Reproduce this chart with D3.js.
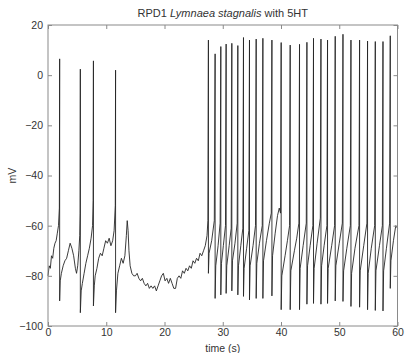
<!DOCTYPE html>
<html>
<head>
<meta charset="utf-8">
<script src="https://cdn.jsdelivr.net/npm/d3@7"></script>
<style>
  body { margin: 0; background: #fff; }
  svg { display: block; font-family: "Liberation Sans", Arial, sans-serif; }
</style>
</head>
<body>
<figure id="trace" style="margin:0"></figure>
<script>
// spikes: time (s), peak (mV), trough (mV)
const spikeTime = [2.0, 5.55, 7.8, 11.6,
  27.54, 28.69, 29.67, 30.58, 31.56, 32.59, 33.56, 34.59, 35.74, 36.89,
  38.44, 40.03, 41.58, 43.18, 44.45, 45.58, 46.86, 47.99, 49.31, 50.64,
  52.01, 53.49, 54.86, 56.19, 57.51, 58.76];
const spikePeak = [6.5, 2.4, 5.7, 2,
  14, 8.5, 11.4, 12.4, 12.7, 11.8, 15, 14, 14.4, 14.7,
  14, 13, 12, 12.3, 13.1, 14.7, 14.4, 14, 15.5, 16.3,
  14, 14, 13.6, 13.4, 13.4, 15.7];
const spikeTrough = [-90, -94.7, -92, -94.7,
  -79, -89, -87.6, -87, -86, -87.6, -88.2, -89.6, -89, -89,
  -88, -93.5, -93.5, -93.5, -91.3, -91, -91.3, -91, -90, -90.2,
  -92.2, -92.5, -93.5, -93.8, -94, -85];

// membrane potential between spikes
const slowTime = [
  0, 0.2, 0.4, 0.6, 0.8, 1.0, 1.2, 1.4, 1.6, 1.8, 1.95,
  2.1, 2.3, 2.6, 2.9, 3.2, 3.5, 3.8, 4.1, 4.4, 4.7, 4.9, 5.1, 5.3, 5.45, 5.52,
  5.7, 5.9, 6.2, 6.5, 6.8, 7.1, 7.4, 7.65, 7.75,
  7.95, 8.1, 8.4, 8.7, 9.0, 9.3, 9.6, 9.9, 10.2, 10.5, 10.8, 11.1, 11.35, 11.55,
  11.75, 12.0, 12.3, 12.6, 12.9, 13.2, 13.45, 13.6, 13.75, 13.9, 14.1, 14.4,
  14.7, 15.0, 15.3, 15.6, 15.9, 16.2, 16.5, 16.8, 17.1, 17.4, 17.7, 18.0,
  18.3, 18.6, 18.9, 19.2, 19.5, 19.8, 20.1, 20.4, 20.7, 21.0, 21.3, 21.6,
  21.9, 22.2, 22.5, 22.8, 23.1, 23.4, 23.7, 24.0, 24.3, 24.6, 24.9, 25.2,
  25.5, 25.8, 26.1, 26.4, 26.7, 27.0, 27.3, 27.45,
  27.65, 28.1, 28.55,
  28.8, 29.2, 29.55,
  29.78, 30.1, 30.47,
  30.69, 31.1, 31.45,
  31.67, 32.1, 32.48,
  32.7, 33.1, 33.45,
  33.67, 34.1, 34.48,
  34.7, 35.2, 35.62,
  35.85, 36.3, 36.78,
  37.0, 37.5, 38.0, 38.33,
  38.55, 39.0, 39.4, 39.7, 39.92,
  40.14, 40.7, 41.1, 41.47,
  41.69, 42.3, 42.7, 43.07,
  43.29, 43.8, 44.34,
  44.56, 45.0, 45.47,
  45.69, 46.2, 46.75,
  46.97, 47.4, 47.88,
  48.1, 48.7, 49.2,
  49.42, 50.0, 50.53,
  50.75, 51.3, 51.9,
  52.12, 52.7, 53.38,
  53.6, 54.2, 54.75,
  54.97, 55.5, 56.08,
  56.3, 56.9, 57.4,
  57.62, 58.1, 58.65,
  58.87, 59.3, 59.7, 60];
const slowVolt = [
  -80, -76, -77, -72, -73, -69, -67, -66, -63, -60, -53,
  -82, -79, -76, -74, -73, -70, -67, -69, -72, -77, -79, -76, -70, -64, -55,
  -86, -83, -79, -75, -72, -69, -65, -60, -50,
  -84, -80, -77, -73, -71, -72, -69, -66, -67, -65, -68, -66, -62, -52,
  -86, -79, -76, -73, -75, -72, -64, -58, -62, -70, -76, -79,
  -80, -80, -79, -81, -82, -81, -83, -84, -83, -85, -84, -85,
  -84, -86, -84, -82, -80, -79, -82, -81, -83, -81, -83, -85,
  -85, -81, -80, -81, -78, -79, -77, -78, -76, -77, -74, -75,
  -73, -74, -71, -72, -70, -68, -64, -58,
  -71, -66, -58,
  -76, -68, -59,
  -75, -68, -60,
  -76, -68, -61,
  -74, -67, -59,
  -76, -68, -61,
  -77, -69, -62,
  -76, -68, -60,
  -75, -67, -60,
  -74, -66, -59, -55,
  -72, -63, -56, -53, -55,
  -80, -72, -66, -60,
  -78, -70, -65, -59,
  -77, -68, -59,
  -76, -68, -60,
  -77, -67, -57,
  -76, -68, -60,
  -77, -68, -60,
  -76, -67, -59,
  -78, -69, -60,
  -79, -69, -60,
  -78, -68, -59,
  -79, -69, -60,
  -78, -68, -60,
  -78, -69, -59,
  -74, -66, -60, -61];

const xTicks = [0, 10, 20, 30, 40, 50, 60];
const yTicks = [-100, -80, -60, -40, -20, 0, 20];

const width = 406, height = 353;
const margin = { top: 25, right: 8.5, bottom: 27, left: 48 };

// merge slow trace and spikes in time order (stable sort keeps peak before trough)
let points = slowTime.map((t, i) => [t, slowVolt[i]]);
spikeTime.forEach((t, i) => {
  points.push([t, spikePeak[i]]);
  points.push([t, spikeTrough[i]]);
});
points.sort((a, b) => a[0] - b[0]);

const svg = d3.select("figure#trace")
  .append("svg")
  .attr("width", width)
  .attr("height", height);

const x = d3.scaleLinear()
  .domain([0, 60])
  .range([margin.left, width - margin.right]);

const y = d3.scaleLinear()
  .domain([-100, 20])
  .range([height - margin.bottom, margin.top]);

const frameColor = "#8a8a8a";
const textColor = "#333";

// trace
const line = d3.line()
  .x(d => x(d[0]))
  .y(d => y(d[1]));

svg.append("path")
  .datum(points)
  .attr("d", line)
  .style("fill", "none")
  .style("stroke", "#262626")
  .style("stroke-width", "0.9px")
  .style("stroke-linejoin", "round");

// axes with inward ticks (left/bottom labelled, top/right bare)
const tickLen = 4;
svg.append("g")
  .attr("transform", "translate(0," + y(-100) + ")")
  .call(d3.axisBottom(x).tickValues(xTicks).tickSizeInner(-tickLen).tickSizeOuter(0).tickPadding(3))
  .call(g => g.selectAll("text").style("font-size", "10.5px").style("fill", textColor));
svg.append("g")
  .attr("transform", "translate(0," + y(20) + ")")
  .call(d3.axisTop(x).tickValues(xTicks).tickSizeInner(-tickLen).tickSizeOuter(0).tickFormat(""));
svg.append("g")
  .attr("transform", "translate(" + x(0) + ",0)")
  .call(d3.axisLeft(y).tickValues(yTicks).tickSizeInner(-tickLen).tickSizeOuter(0).tickPadding(5))
  .call(g => g.selectAll("text").style("font-size", "10.5px").style("fill", textColor));
svg.append("g")
  .attr("transform", "translate(" + x(60) + ",0)")
  .call(d3.axisRight(y).tickValues(yTicks).tickSizeInner(-tickLen).tickSizeOuter(0).tickFormat(""));

svg.selectAll(".domain").remove();
svg.selectAll(".tick line").style("stroke", frameColor);

// box
svg.append("rect")
  .attr("x", x(0))
  .attr("y", y(20))
  .attr("width", x(60) - x(0))
  .attr("height", y(-100) - y(20))
  .style("fill", "none")
  .style("stroke", frameColor)
  .style("stroke-width", "1px");

// labels
const title = svg.append("text")
  .attr("x", (x(0) + x(60)) / 2)
  .attr("y", 17)
  .attr("text-anchor", "middle")
  .style("font-size", "11px")
  .style("fill", textColor);
title.append("tspan").text("RPD1  ");
title.append("tspan").style("font-style", "italic").text("Lymnaea stagnalis");
title.append("tspan").text(" with 5HT");

svg.append("text")
  .attr("x", (x(0) + x(60)) / 2)
  .attr("y", 352)
  .attr("text-anchor", "middle")
  .style("font-size", "10.5px")
  .style("fill", textColor)
  .text("time (s)");

svg.append("text")
  .attr("transform", "translate(16," + y(-40) + ") rotate(-90)")
  .attr("text-anchor", "middle")
  .style("font-size", "10.5px")
  .style("fill", textColor)
  .text("mV");
</script>
</body>
</html>
